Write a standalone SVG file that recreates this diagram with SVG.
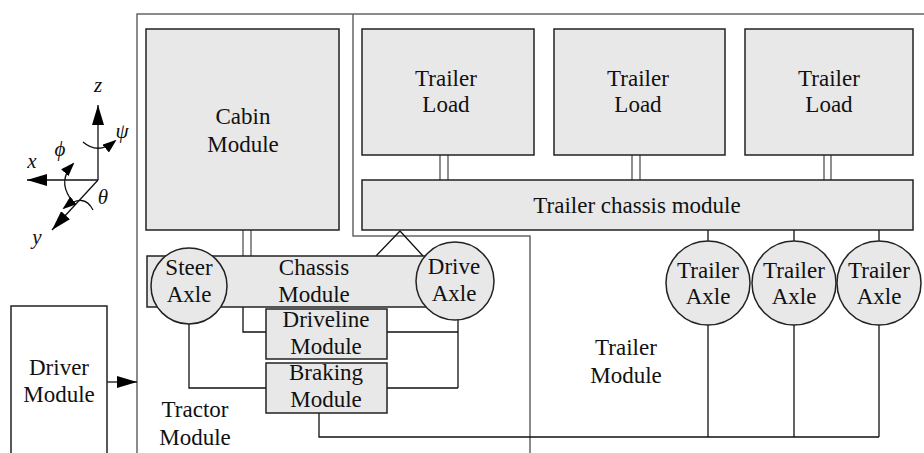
<svg xmlns="http://www.w3.org/2000/svg" width="924" height="453" viewBox="0 0 924 453" font-family="'Liberation Serif', 'Times New Roman', 'DejaVu Serif', Times, serif">
<defs>
<style>
.box{fill:#e8e8e8;stroke:#222;stroke-width:1.5}
.frame{fill:none;stroke:#666;stroke-width:1.5}
.ln{fill:none;stroke:#111;stroke-width:1.3}
.dbl{fill:none;stroke:#555;stroke-width:1.3}
text{font-family:'Liberation Serif','Times New Roman','DejaVu Serif',Times,serif;font-size:23px;fill:#111;text-anchor:middle}
.ax{font-style:italic;font-size:21px}
</style>
<marker id="ah" viewBox="0 0 20 12" refX="20" refY="6" markerWidth="20" markerHeight="12" markerUnits="userSpaceOnUse" orient="auto">
<path d="M0,0 L20,6 L0,12 z" fill="#000"/>
</marker>
<marker id="ahs" viewBox="0 0 14 10" refX="12" refY="5" markerWidth="14" markerHeight="10" markerUnits="userSpaceOnUse" orient="auto">
<path d="M0,0 L14,5 L0,10 z" fill="#000"/>
</marker>
</defs>

<g id="frames">
<path class="frame" d="M137,453 V14 H924"/>
<path class="frame" d="M353,14 V236 H530 V453"/>
</g>

<g id="connectors">
<path class="dbl" d="M243,230 V256 M251,230 V256"/>
<path class="dbl" d="M440,155 V180 M448,155 V180 M632,155 V180 M640,155 V180 M824,155 V180 M831,155 V180"/>
<path class="ln" d="M376,256 L400,231 L423,256"/>
<path class="ln" d="M243,307 V332 H266"/>
<path class="ln" d="M189,320 V388 H266"/>
<path class="ln" d="M387,332 H458 M387,388 H458 M458,318 V388"/>
<path class="ln" d="M319,413 V437 H879"/>
<path class="ln" d="M708,230 V241 M794,230 V241 M879,230 V241"/>
<path class="ln" d="M708,325 V437 M794,325 V437 M879,325 V437"/>
<path class="ln" d="M107,382 H137" marker-end="url(#ah)"/>
</g>

<g id="axes">
<path class="ln" d="M98,180 V105" marker-end="url(#ah)"/>
<path class="ln" d="M98,180 H27" marker-end="url(#ah)"/>
<path class="ln" d="M98,180 L52,230" marker-end="url(#ah)"/>
<path class="ln" d="M83,142 Q98,155 115,141" marker-end="url(#ahs)"/>
<path class="ln" d="M70,198 Q58,180 73,164" marker-end="url(#ahs)"/>
<path class="ln" d="M93,210 Q84,192 64,208" marker-end="url(#ahs)"/>
<text class="ax" x="98" y="92">z</text>
<text class="ax" x="122" y="138">ψ</text>
<text class="ax" x="60" y="156">ϕ</text>
<text class="ax" x="32" y="168">x</text>
<text class="ax" x="103" y="204">θ</text>
<text class="ax" x="37" y="244">y</text>
</g>

<g id="cabin">
<rect class="box" x="146" y="29" width="193" height="201"/>
<text x="243" y="124">Cabin</text>
<text x="243" y="152">Module</text>
</g>

<g id="load1">
<rect class="box" x="362" y="29" width="172" height="126"/>
<text x="446" y="86">Trailer</text>
<text x="446" y="112">Load</text>
</g>
<g id="load2">
<rect class="box" x="554" y="29" width="171" height="126"/>
<text x="638" y="86">Trailer</text>
<text x="638" y="112">Load</text>
</g>
<g id="load3">
<rect class="box" x="745" y="29" width="168" height="126"/>
<text x="829" y="86">Trailer</text>
<text x="829" y="112">Load</text>
</g>

<g id="trailerchassis">
<rect class="box" x="362" y="180" width="551" height="50"/>
<text x="637" y="213">Trailer chassis module</text>
</g>

<g id="chassis">
<rect class="box" x="147" y="256" width="283" height="51"/>
<text x="314" y="275">Chassis</text>
<text x="314" y="302">Module</text>
</g>

<g id="steer">
<circle class="box" cx="189" cy="286" r="38"/>
<text x="189" y="275">Steer</text>
<text x="189" y="302">Axle</text>
</g>

<g id="drive">
<circle class="box" cx="455" cy="281" r="39"/>
<text x="454" y="274">Drive</text>
<text x="454" y="301">Axle</text>
</g>

<g id="driveline">
<rect class="box" x="266" y="309" width="121" height="50"/>
<text x="326" y="327">Driveline</text>
<text x="326" y="354">Module</text>
</g>

<g id="braking">
<rect class="box" x="266" y="363" width="121" height="50"/>
<text x="326" y="380">Braking</text>
<text x="326" y="407">Module</text>
</g>

<g id="taxle1">
<circle class="box" cx="708" cy="283" r="42"/>
<text x="708" y="278">Trailer</text>
<text x="708" y="304">Axle</text>
</g>
<g id="taxle2">
<circle class="box" cx="794" cy="283" r="42"/>
<text x="794" y="278">Trailer</text>
<text x="794" y="304">Axle</text>
</g>
<g id="taxle3">
<circle class="box" cx="879" cy="283" r="42"/>
<text x="879" y="278">Trailer</text>
<text x="879" y="304">Axle</text>
</g>

<g id="driver">
<path class="frame" style="stroke:#222" d="M11,453 V306 H107 V453"/>
<text x="59" y="375">Driver</text>
<text x="59" y="402">Module</text>
</g>

<g id="labels">
<text x="626" y="355">Trailer</text>
<text x="626" y="383">Module</text>
<text x="195" y="417">Tractor</text>
<text x="195" y="445">Module</text>
</g>
</svg>
